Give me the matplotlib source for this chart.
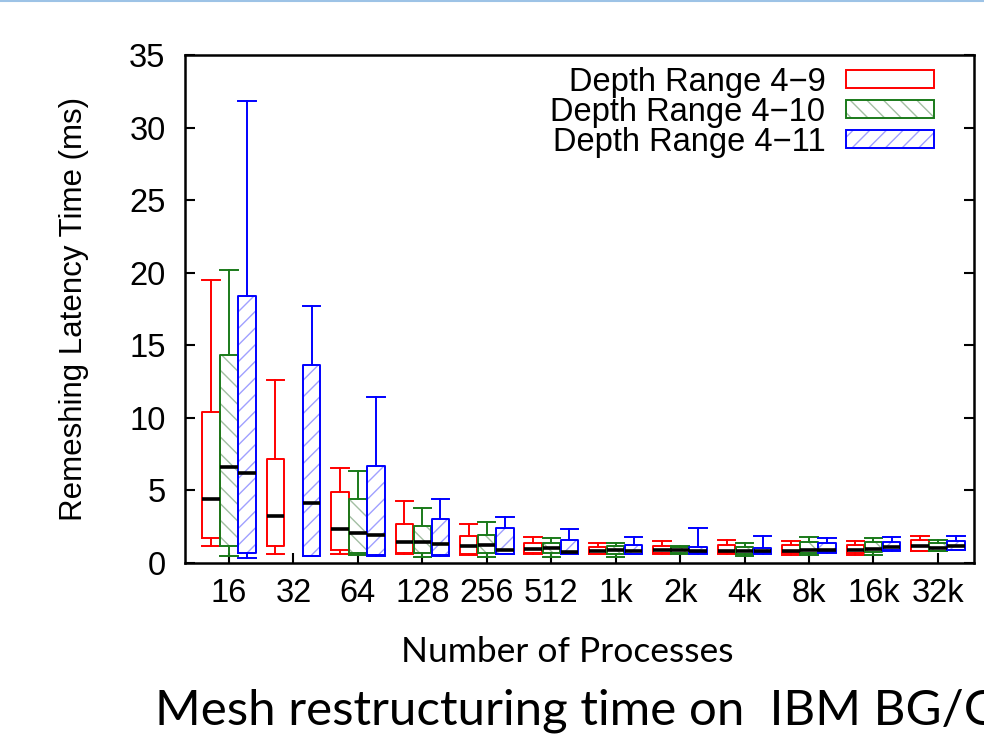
import numpy as np
import matplotlib
matplotlib.use("Agg")
import matplotlib.pyplot as plt
from matplotlib.patches import Patch
from matplotlib.lines import Line2D

procs = ["16", "32", "64", "128", "256", "512", "1k", "2k", "4k", "8k", "16k", "32k"]
labels = ["Depth Range 4\u22129", "Depth Range 4\u221210", "Depth Range 4\u221211"]

# per series: whisker low, q1, median, q3, whisker high (ms)
nan = np.nan
d9_lo = [1.2, 0.6, 0.6, 0.6, 0.55, 0.6, 0.6, 0.6, 0.65, 0.53, 0.58, 0.8]
d9_q1 = [1.7, 1.17, 0.9, 0.67, 0.65, 0.67, 0.62, 0.7, 0.71, 0.66, 0.71, 0.85]
d9_med = [4.42, 3.27, 2.32, 1.47, 1.17, 0.94, 0.85, 0.9, 0.85, 0.85, 0.9, 1.17]
d9_q3 = [10.4, 7.15, 4.88, 2.69, 1.86, 1.4, 1.13, 1.2, 1.24, 1.24, 1.24, 1.59]
d9_hi = [19.47, 12.63, 6.56, 4.28, 2.69, 1.82, 1.4, 1.55, 1.59, 1.52, 1.52, 1.86]

d10_lo = [0.48, nan, 0.55, 0.44, 0.44, 0.44, 0.41, 0.6, 0.5, 0.55, 0.53, 0.8]
d10_q1 = [1.2, nan, 0.71, 0.67, 0.71, 0.71, 0.62, 0.71, 0.6, 0.71, 0.78, 0.85]
d10_med = [6.58, nan, 2.05, 1.47, 1.24, 1.01, 0.9, 0.9, 0.83, 0.9, 0.94, 1.06]
d10_q3 = [14.3, nan, 4.44, 2.55, 1.93, 1.4, 1.17, 1.1, 1.1, 1.45, 1.45, 1.38]
d10_hi = [20.2, nan, 6.35, 3.77, 2.85, 1.75, 1.4, 1.2, 1.36, 1.82, 1.7, 1.56]

d11_lo = [0.37, 0.45, 0.5, 0.5, 0.6, 0.6, 0.6, 0.62, 0.62, 0.7, 0.85, 0.88]
d11_q1 = [0.67, 0.48, 0.55, 0.53, 0.62, 0.62, 0.62, 0.66, 0.66, 0.73, 0.87, 0.9]
d11_med = [6.17, 4.12, 1.93, 1.29, 0.9, 0.76, 0.85, 0.85, 0.83, 0.9, 1.08, 1.17]
d11_q3 = [18.4, 13.65, 6.65, 3.06, 2.44, 1.59, 1.24, 1.13, 1.01, 1.38, 1.45, 1.52]
d11_hi = [31.8, 17.7, 11.44, 4.44, 3.2, 2.37, 1.82, 2.44, 1.89, 1.7, 1.77, 1.89]

series = [
    (d9_lo, d9_q1, d9_med, d9_q3, d9_hi),
    (d10_lo, d10_q1, d10_med, d10_q3, d10_hi),
    (d11_lo, d11_q1, d11_med, d11_q3, d11_hi),
]
colors = ["#ff0000", "#1a7a1a", "#0000ff"]
hatch_colors = [None, "#a3bfa3", "#a0a0ff"]
hatches = [None, "\\\\", "//"]
offsets = [-0.28, 0.0, 0.28]
width = 0.27

plt.rcParams["font.family"] = ["Liberation Sans", "DejaVu Sans"]
plt.rcParams["hatch.linewidth"] = 1.0

fig = plt.figure(figsize=(9.84, 7.34), dpi=100)
ax = fig.add_axes([185 / 984, 1 - 563 / 734, (974 - 185) / 984, (563 - 55) / 734])

x = np.arange(1, len(procs) + 1)
for k, (lo, q1, med, q3, hi) in enumerate(series):
    stats, pos = [], []
    for i in range(len(procs)):
        if np.isnan(med[i]):
            continue
        stats.append(dict(whislo=lo[i], q1=q1[i], med=med[i], q3=q3[i], whishi=hi[i], fliers=[]))
        pos.append(x[i] + offsets[k])
    if hatches[k]:
        q1a = np.array([s["q1"] for s in stats])
        q3a = np.array([s["q3"] for s in stats])
        ax.bar(pos, q3a - q1a, bottom=q1a, width=width, color="white",
               edgecolor=hatch_colors[k], hatch=hatches[k], linewidth=0, zorder=2)
    c = colors[k]
    ax.bxp(stats, positions=pos, widths=width, capwidths=width, showfliers=False,
           boxprops=dict(color=c, linewidth=1.4),
           whiskerprops=dict(color=c, linewidth=1.4),
           capprops=dict(color=c, linewidth=1.4),
           medianprops=dict(color="black", linewidth=2.6, solid_capstyle="butt"),
           manage_ticks=False, zorder=3)

ax.set_xlim(0.317, 12.56)
ax.set_ylim(0, 35)
ax.set_xticks(x)
ax.set_xticklabels(procs)
ax.set_yticks(np.arange(0, 36, 5))
ax.tick_params(axis="both", direction="in", length=7, width=1.5, labelsize=23.5)
ax.tick_params(axis="x", pad=11)
ax.tick_params(axis="y", pad=14, right=True)
for s in ax.spines.values():
    s.set_linewidth(1.8)

ax.set_ylabel("Remeshing Latency Time (ms)", fontsize=22.5, labelpad=29)

# legend: light hatch layer + coloured outline drawn on top of each other
handles = []
for k in range(3):
    outline = Patch(facecolor="none", edgecolor=colors[k], linewidth=1.4)
    if hatches[k]:
        fill = Patch(facecolor="white", edgecolor=hatch_colors[k], hatch=hatches[k], linewidth=0)
        handles.append((fill, outline))
    else:
        handles.append(outline)
ax.legend(handles, labels, loc="upper right", bbox_to_anchor=(0.987, 1.035),
          frameon=False, markerfirst=False, fontsize=23.5, handlelength=2.7,
          handleheight=0.46, labelspacing=-0.03, handletextpad=0.64)

fig.text(567 / 984, 1 - 652 / 734, "Number of Processes", fontsize=25.5,
         family="Lato", ha="center", va="center")
fig.text(155 / 984, 1 - 711 / 734, "Mesh restructuring time on  IBM BG/Q", fontsize=35.5,
         family="Lato", ha="left", va="center")
fig.add_artist(Line2D([0, 1], [0.999, 0.999], color="#9dc3e6", linewidth=1.5))

fig.savefig("out.png", dpi=100)
